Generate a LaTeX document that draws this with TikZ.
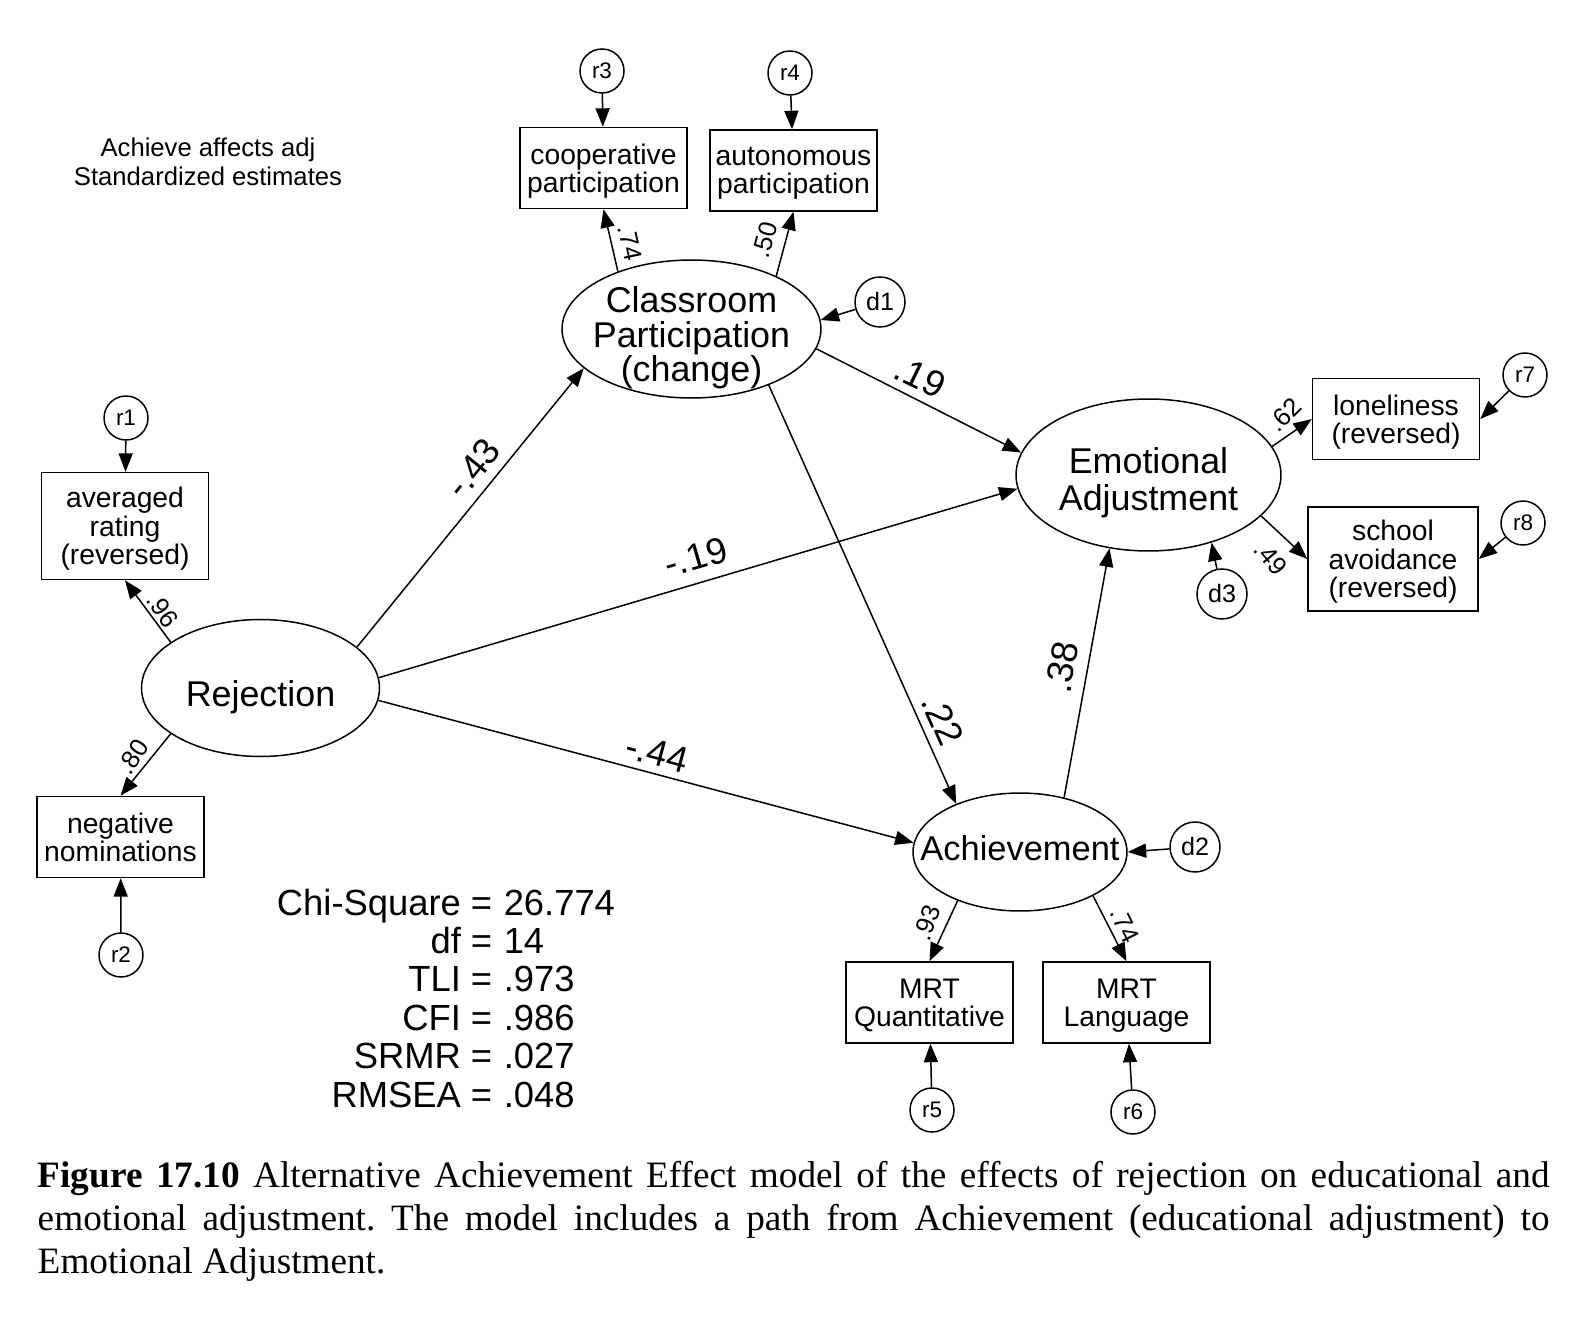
\documentclass[tikz,border=0pt]{standalone}
\usepackage{fontspec}
\setmainfont{Liberation Sans}
\newfontfamily\captionfont{Liberation Serif}
\usetikzlibrary{arrows.meta,shapes.geometric}

\tikzset{
  latent/.style={ellipse, draw, inner sep=0pt},
  lattext/.style={align=center, inner sep=0pt, font=\fontsize{20.4}{19.5}\selectfont},
  observed/.style={rectangle, draw, align=center, inner sep=1pt, text depth=-2pt, minimum width=3.34cm, minimum height=1.62cm, font=\fontsize{16.1}{16.1}\selectfont},
  resid/.style={circle, draw, inner sep=0pt, minimum size=0.88cm, font=\fontsize{12.8}{12.8}\selectfont},
  dist/.style={circle, draw, inner sep=0pt, minimum size=1cm, font=\fontsize{14.3}{14.3}\selectfont},
  coef/.style={inner sep=0pt, font=\fontsize{21}{21}\selectfont},
  load/.style={inner sep=0pt, font=\fontsize{14.5}{14.5}\selectfont},
  stat/.style={inner sep=0pt, font=\fontsize{20.7}{20.7}\selectfont},
}

\begin{document}
\begin{tikzpicture}[x=0.02cm, y=-0.02cm, line width=0.85pt, >={Triangle[length=10.5pt,width=8pt]}]
\useasboundingbox (0,0) rectangle (1596,1324);

\node[align=center, inner sep=0pt, font=\fontsize{14.6}{16.7}\selectfont] (title) at (208,162) {Achieve affects adj\\Standardized estimates};

% latent variables
\node[latent, minimum width=5.18cm, minimum height=2.76cm, label={[lattext, yshift=-5pt]center:{Classroom\\Participation\\(change)}}] (cp) at (691.5,329) {};
\node[latent, minimum width=5.3cm, minimum height=3.04cm, label={[lattext, yshift=-4.5pt, font=\fontsize{20.4}{21}\selectfont]center:{Emotional\\Adjustment}}] (ea) at (1148.5,475) {};
\node[latent, minimum width=4.76cm, minimum height=2.74cm, label={[lattext, yshift=-5pt]center:Rejection}] (rej) at (260.5,688) {};
\node[latent, minimum width=4.28cm, minimum height=2.36cm, label={[lattext, yshift=2pt, font=\fontsize{19.6}{19.6}\selectfont]center:Achievement}] (ach) at (1020,852) {};

% indicators
\node[observed] (coop) at (603.5,168) {cooperative\\participation};
\node[observed] (auton) at (793.5,170.5) {autonomous\\participation};
\node[observed, minimum height=2.14cm] (avg) at (125,526) {averaged\\rating\\(reversed)};
\node[observed] (neg) at (120.5,837) {negative\\nominations};
\node[observed] (lonely) at (1396,419) {loneliness\\(reversed)};
\node[observed, minimum width=3.4cm, minimum height=2.08cm] (school) at (1393,559) {school\\avoidance\\(reversed)};
\node[observed] (mrtq) at (929.5,1002.5) {MRT\\Quantitative};
\node[observed] (mrtl) at (1126.5,1002.5) {MRT\\Language};

% errors and disturbances
\foreach \n/\x/\y in {r1/126/418, r2/121/955, r3/602/71, r4/790/73, r5/932/1110, r6/1133/1112, r7/1525/375, r8/1523/523}
  \node[resid] (\n) at (\x,\y) {\n};
\foreach \n/\x/\y in {d1/880/302, d2/1195/847, d3/1222/594}
  \node[dist] (\n) at (\x,\y) {\n};

\foreach \a/\b in {r1/avg, r2/neg, r3/coop, r4/auton, r5/mrtq, r6/mrtl, r7/lonely.east, r8/school.east, d1/cp.4, d2/ach.east, d3/ea.-47}
  \draw[->] (\a) -- (\b);

% measurement paths
\draw[->] (cp.142) -- (coop.south);
\draw[->] (cp.32) -- (auton.south);
\draw[->] (rej.153) -- (avg.south);
\draw[->] (rej.207) -- (neg.north);
\draw[->] (ea.13) -- (lonely.west);
\draw[->] (ea.-20) -- (school.west);
\draw[->] (ach.218) -- (mrtq.north);
\draw[->] (ach.-31) -- (mrtl.north);

% structural paths
\draw[->] (rej.23) -- (cp.200);
\draw[->] (rej.5) -- (ea.186);
\draw[->] (rej.-6) -- (ach.175);
\draw[->] (cp.-9) -- (ea.170);
\draw[->] (cp.-36) -- (ach.143);
\draw[->] (ach.51) -- (ea.242);

\foreach \n/\x/\y/\r/\t in {c43/473/468/51/-.43, c19b/696/557/16/-.19, c44/657/753/-15/-.44, c19a/920/377/-26/.19, c22/943/720/-66/.22, c38/1062/667/80/.38}
  \node[coef, rotate=\r] (\n) at (\x,\y) {\t};
\foreach \n/\x/\y/\r/\t in {l96/163/610/-54/.96, l80/133/757/57/.80, l74a/630/243/-78/.74, l50/765/240/75/.50, l62/1285/415/45/.62, l49/1271/558/-50/.49, l93/927/923/70/.93, l74b/1125/925/-64/.74}
  \node[load, rotate=\r] (\n) at (\x,\y) {\t};

% fit indices
\foreach \i/\l/\v in {0/Chi-Square/26.774, 1/df/14, 2/TLI/.973, 3/CFI/.986, 4/SRMR/.027, 5/RMSEA/.048} {
  \node[stat, anchor=base east] (s\i) at (493,{915+38.4*\i}) {\l\ =};
  \node[stat, anchor=base west] (v\i) at (503,{915+38.4*\i}) {\v};
}

\node[anchor=north west, inner sep=0pt, text width=30.24cm, align=justify, font=\captionfont\fontsize{21.2}{24.2}\selectfont\frenchspacing] (caption) at (37,1161) {\textbf{Figure 17.10} Alternative Achievement Effect model of the effects of rejection on educational and\linebreak emotional adjustment. The model includes a path from Achievement (educational adjustment) to\linebreak Emotional Adjustment.};
\end{tikzpicture}
\end{document}
